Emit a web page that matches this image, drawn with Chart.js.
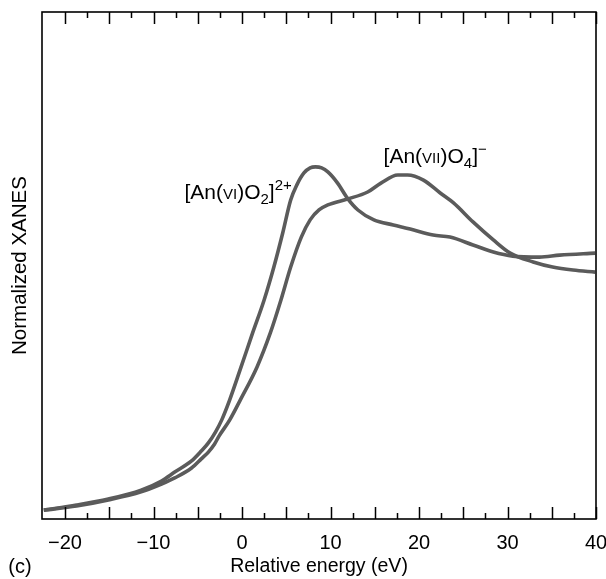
<!DOCTYPE html>
<html>
<head>
<meta charset="utf-8">
<script src="https://cdn.jsdelivr.net/npm/chart.js@4/dist/chart.umd.min.js"></script>
<style>
  html, body { margin: 0; padding: 0; background: #fff; overflow: hidden; }
  #wrap { width: 606px; height: 579px; position: relative; }
</style>
</head>
<body>
<div id="wrap"><canvas id="c" width="606" height="579"></canvas></div>
<script>
// ---- data ----
const energyVI = [-22.4,-18.7,-15.1,-11.4,-9.1,-7.6,-5.7,-4.6,-3.8,-3.0,-2.3,-1.4,-0.2,1.2,2.5,3.6,4.6,5.5,6.2,7.0,7.7,8.3,9.0,9.7,10.8,11.9,13.1,14.9,17.1,19.0,21.6,23.5,26.1,28.4,30.6,33.6,35.9,39.9];
const xanesVI  = [0.035,0.055,0.079,0.114,0.150,0.185,0.229,0.268,0.300,0.343,0.390,0.469,0.590,0.734,0.864,0.994,1.128,1.258,1.318,1.365,1.385,1.389,1.385,1.369,1.325,1.266,1.219,1.180,1.160,1.144,1.120,1.112,1.081,1.053,1.037,1.033,1.041,1.049];

const energyVII = [-22.4,-18.7,-15.1,-11.4,-9.1,-7.6,-5.7,-4.6,-3.8,-3.1,-2.6,-1.4,-0.2,1.7,3.2,4.4,5.5,6.7,7.7,8.7,9.7,11.9,14.2,15.7,17.6,18.7,20.5,22.4,23.9,26.1,28.4,30.3,32.9,35.1,37.4,39.9];
const xanesVII  = [0.035,0.051,0.075,0.107,0.138,0.162,0.201,0.237,0.264,0.296,0.327,0.390,0.469,0.600,0.734,0.864,0.994,1.112,1.180,1.219,1.239,1.262,1.290,1.325,1.357,1.357,1.337,1.286,1.247,1.172,1.101,1.049,1.014,0.994,0.982,0.974];

const xTickLabels = [-20, -10, 0, 10, 20, 30, 40];
const xMinorTicks = [-20,-17.5,-15,-12.5,-10,-7.5,-5,-2.5,0,2.5,5,7.5,10,12.5,15,17.5,20,22.5,25,27.5,30,32.5,35,37.5,40];

const labelVI  = { x: -6.5, y: 1.262, parts: [["[An(",21,0],["VI",15,0],[")O",21,0],["2",15,5],["]",21,0],["2+",15,-9]] };
const labelVII = { x: 16.0, y: 1.404, parts: [["[An(",21,0],["VII",15,0],[")O",21,0],["4",15,5],["]",21,0],["\u2212",15,-9]] };

const FONT = "'Liberation Sans', Arial, Helvetica, sans-serif";
const LINE = '#5b5b5b';

function pts(xs, ys) { return xs.map((x, i) => ({ x: x, y: ys[i] })); }

const framePlugin = {
  id: 'frame',
  afterDatasetsDraw(chart) {
    const { ctx, chartArea: a, scales: { x } } = chart;
    ctx.save();
    ctx.strokeStyle = '#000';
    ctx.lineWidth = 1.6;
    ctx.strokeRect(a.left, a.top, a.right - a.left, a.bottom - a.top);
    ctx.lineWidth = 1.5;
    ctx.beginPath();
    xMinorTicks.forEach(v => {
      const px = Math.round(x.getPixelForValue(v)) + 0.5;
      const len = (v % 5 === 0) ? 12 : 6;
      ctx.moveTo(px, a.bottom); ctx.lineTo(px, a.bottom - len);
      ctx.moveTo(px, a.top); ctx.lineTo(px, a.top + len);
    });
    ctx.stroke();
    // rich-text annotations
    [labelVI, labelVII].forEach(lb => {
      let px = x.getPixelForValue(lb.x);
      const py = chart.scales.y.getPixelForValue(lb.y);
      ctx.fillStyle = '#000';
      ctx.textBaseline = 'alphabetic';
      ctx.textAlign = 'left';
      lb.parts.forEach(([t, size, dy]) => {
        ctx.font = size + 'px ' + FONT;
        ctx.fillText(t, px, py + dy);
        px += ctx.measureText(t).width;
      });
    });
    // panel letter
    ctx.font = '20px ' + FONT;
    ctx.textAlign = 'center';
    ctx.textBaseline = 'middle';
    ctx.fillStyle = '#000';
    ctx.fillText('(c)', 20, 567);
    ctx.restore();
  }
};

new Chart(document.getElementById('c'), {
  type: 'line',
  data: {
    datasets: [
      { label: 'An(VI)O2 2+', data: pts(energyVI, xanesVI), borderColor: LINE, borderWidth: 3.6, pointRadius: 0, fill: false, cubicInterpolationMode: 'monotone' },
      { label: 'An(VII)O4 -', data: pts(energyVII, xanesVII), borderColor: LINE, borderWidth: 3.6, pointRadius: 0, fill: false, cubicInterpolationMode: 'monotone' }
    ]
  },
  options: {
    responsive: false,
    animation: false,
    events: [],
    layout: { padding: { left: 0, right: 10, top: 12, bottom: 0 } },
    plugins: { legend: { display: false }, tooltip: { enabled: false } },
    scales: {
      x: {
        type: 'linear',
        min: -22.6, max: 40,
        grid: { display: false, drawTicks: false },
        border: { display: false },
        afterBuildTicks: s => { s.ticks = xTickLabels.map(v => ({ value: v })); },
        afterFit: s => { s.height = 60; s.paddingLeft = 0; s.paddingRight = 0; },
        ticks: {
          color: '#000', padding: 12, maxRotation: 0, autoSkip: false,
          font: { family: FONT, size: 20 },
          callback: v => (v < 0 ? '\u2212' + Math.abs(v) : String(v))
        },
        title: { display: true, text: 'Relative energy (eV)', color: '#000', font: { family: FONT, size: 19.5 }, padding: { top: 0, bottom: 1 } }
      },
      y: {
        min: 0, max: 2.0,
        grid: { display: false, drawTicks: false },
        border: { display: false },
        ticks: { display: false },
        afterFit: s => { s.width = 42; s.paddingTop = 0; s.paddingBottom = 0; },
        title: { display: true, text: 'Normalized XANES', color: '#000', font: { family: FONT, size: 20.5 }, padding: { top: 8, bottom: 0 } }
      }
    }
  },
  plugins: [framePlugin]
});
</script>
</body>
</html>
